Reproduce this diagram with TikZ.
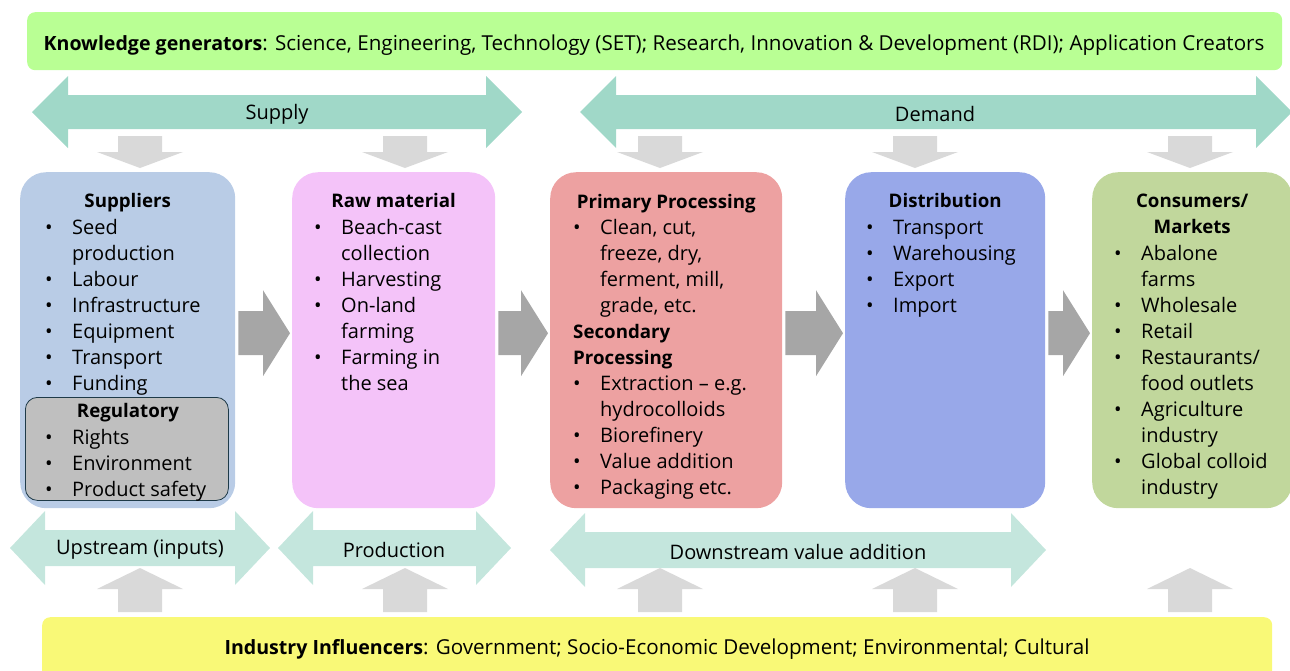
\documentclass[tikz,border=0pt]{standalone}
\usepackage{fontspec}
\setmainfont{Open Sans}
\usetikzlibrary{positioning,calc}

\definecolor{knowgreen}{HTML}{B9FF94}
\definecolor{infyellow}{HTML}{F9F977}
\definecolor{chainteal}{HTML}{A0D8C8}
\definecolor{stageteal}{HTML}{C4E6DD}
\definecolor{feedgrey}{HTML}{D9D9D9}
\definecolor{flowgrey}{HTML}{A6A6A6}
\definecolor{supblue}{HTML}{B9CCE6}
\definecolor{rawpink}{HTML}{F4C3F9}
\definecolor{procred}{HTML}{EDA1A1}
\definecolor{distblue}{HTML}{98A8E9}
\definecolor{mktgreen}{HTML}{C1D79C}
\definecolor{reggrey}{HTML}{BFBFBF}
\definecolor{regedge}{HTML}{1E3A48}

\newcommand{\bodyfont}{\fontsize{20}{26}\selectfont}
\newcommand{\headfont}{\fontsize{18.7}{26}\selectfont\bfseries}
% bullet list, one row per printed line
\newenvironment{blist}{\begin{tabular}{@{}p{27pt}@{}l@{}}}{\end{tabular}}
\newcommand{\hd}[1]{\multicolumn{2}{@{}l@{}}{\headfont #1}}

% double block arrow: left tip, right tip, centre y, half shaft, half head, head length
\newcommand{\dblarrow}[7]{%
  \fill[#7] (#1,#3) -- (#1+#6,#3-#5) -- (#1+#6,#3-#4) -- (#2-#6,#3-#4) -- (#2-#6,#3-#5)
    -- (#2,#3) -- (#2-#6,#3+#5) -- (#2-#6,#3+#4) -- (#1+#6,#3+#4) -- (#1+#6,#3+#5) -- cycle;}

\tikzset{
  bar/.style={rounded corners=8pt, inner sep=0pt, anchor=north west},
  stagebox/.style={rounded corners=26pt, inner sep=0pt, anchor=north west,
    minimum height=336pt},
  txt/.style={font=\bodyfont, inner sep=0pt},
  bartxt/.style={font=\fontsize{20.6}{26}\selectfont, inner sep=0pt},
  title/.style={font=\headfont, inner sep=0pt, anchor=base, align=center},
  items/.style={font=\bodyfont, inner sep=0pt, anchor=north west},
}

\begin{document}
\begin{tikzpicture}[x=1pt, y=-1pt]
\useasboundingbox (0,0) rectangle (1290,670);

% outer bars
\node[bar, fill=knowgreen, minimum width=1255pt, minimum height=58pt] (know) at (27,12) {};
\node[bartxt] (knowtxt) at (654,45) {{\fontsize{19.6}{26}\selectfont\bfseries Knowledge generators}: Science, Engineering, Technology (SET); Research, Innovation \& Development (RDI); Application Creators};
\node[bar, fill=infyellow, minimum width=1230pt, minimum height=70pt] (infl) at (42,617) {};
\node[bartxt] (infltxt) at (657,649) {{\fontsize{19.6}{26}\selectfont\bfseries Industry Influencers}: Government; Socio-Economic Development; Environmental; Cultural};

% supply / demand
\dblarrow{32}{522}{112}{17}{36}{36}{chainteal}
\dblarrow{580}{1292}{112}{17}{36}{36}{chainteal}
\node[txt] (supply) at (277,114) {Supply};
\node[txt] (demand) at (935,114) {Demand};

% stage arrows
\dblarrow{10}{270}{548}{18}{37}{35}{stageteal}
\dblarrow{278}{511}{548}{18}{37}{35}{stageteal}
\dblarrow{550}{1046}{550}{18}{37}{35}{stageteal}
\node[txt] (upstream) at (140,550) {Upstream (inputs)};
\node[txt] (production) at (394,550) {Production};
\node[txt] (downstream) at (798,552) {Downstream value addition};

% feed arrows from the bars
\foreach \x in {140,405,660,915,1190} {
  \fill[feedgrey] (\x-22,136) -- (\x+22,136) -- (\x+22,152) -- (\x+43,152) -- (\x,168)
    -- (\x-43,152) -- (\x-22,152) -- cycle;
  \fill[feedgrey] (\x,568) -- (\x+43,589) -- (\x+22,589) -- (\x+22,612) -- (\x-22,612)
    -- (\x-22,589) -- (\x-43,589) -- cycle;
}

% value chain stages
\node[stagebox, fill=supblue, minimum width=215pt] (sup) at (20,172) {};
\node[stagebox, fill=rawpink, minimum width=203pt] (raw) at (292,172) {};
\node[stagebox, fill=procred, minimum width=232pt] (proc) at (550,172) {};
\node[stagebox, fill=distblue, minimum width=200pt] (dist) at (845,172) {};
\node[stagebox, fill=mktgreen, minimum width=200pt] (mkt) at (1092,172) {};

\node[bar, rounded corners=12pt, fill=reggrey, draw=regedge, line width=0.8pt,
  minimum width=203pt, minimum height=103pt] (reg) at (25,397) {};

% flow between stages
\foreach \a/\b in {sup/raw, raw/proc, proc/dist, dist/mkt}
  \fill[flowgrey] let \p1=(\a.east), \p2=(\b.west) in
    (\x1+3pt,\y1+29pt) -- (\x2-29pt,\y1+29pt) -- (\x2-29pt,\y1+50pt) -- (\x2-2pt,\y1+7pt)
    -- (\x2-29pt,\y1-36pt) -- (\x2-29pt,\y1-15pt) -- (\x1+3pt,\y1-15pt) -- cycle;

% stage contents
\node[title] (supT) at ($(sup.north)+(0,35)$) {Suppliers};
\node[items] (supL) at (45,216) {\begin{blist}
  \textbullet & Seed\\ & production\\ \textbullet & Labour\\ \textbullet & Infrastructure\\
  \textbullet & Equipment\\ \textbullet & Transport\\ \textbullet & Funding
\end{blist}};
\node[title] (regT) at (128,417) {Regulatory};
\node[items] (regL) at (45,426) {\begin{blist}
  \textbullet & Rights\\ \textbullet & Environment\\ \textbullet & Product safety
\end{blist}};

\node[title] (rawT) at ($(raw.north)+(0,35)$) {Raw material};
\node[items] (rawL) at (314,216) {\begin{blist}
  \textbullet & Beach-cast\\ & collection\\ \textbullet & Harvesting\\ \textbullet & On-land\\
  & farming\\ \textbullet & Farming in\\ & the sea
\end{blist}};

\node[title] (procT) at ($(proc.north)+(0,36)$) {Primary Processing};
\node[items] (procL) at (573,216) {\begin{blist}
  \textbullet & Clean, cut,\\ & freeze, dry,\\ & ferment, mill,\\ & grade, etc.\\
  \hd{Secondary}\\ \hd{Processing}\\
  \textbullet & Extraction -- e.g.\\ & hydrocolloids\\ \textbullet & Biorefinery\\
  \textbullet & Value addition\\ \textbullet & Packaging etc.
\end{blist}};

\node[title] (distT) at ($(dist.north)+(0,35)$) {Distribution};
\node[items] (distL) at (866,216) {\begin{blist}
  \textbullet & Transport\\ \textbullet & Warehousing\\ \textbullet & Export\\ \textbullet & Import
\end{blist}};

\node[title] (mktT) at ($(mkt.north)+(0,35)$) {Consumers/};
\node[title] (mktT2) at ($(mkt.north)+(0,61)$) {Markets};
\node[items] (mktL) at (1114,242) {\begin{blist}
  \textbullet & Abalone\\ & farms\\ \textbullet & Wholesale\\ \textbullet & Retail\\
  \textbullet & Restaurants/\\ & food outlets\\ \textbullet & Agriculture\\ & industry\\
  \textbullet & Global colloid\\ & industry
\end{blist}};
\end{tikzpicture}
\end{document}
